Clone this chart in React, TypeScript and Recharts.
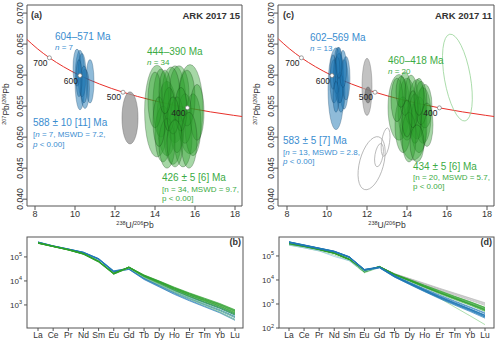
import React from 'react';
import { ComposedChart, LineChart, Line, Scatter, XAxis, YAxis, ReferenceArea } from 'recharts';

const FONT = '"Liberation Sans", Arial, Helvetica, sans-serif';
const BLUE = '#1f78b4';
const GREEN = '#2ca02c';
const BLUE_TXT = '#3a8dd0';
const GREEN_TXT = '#3cab45';
const RED = '#e8302a';
const INK = '#333';

// Tera-Wasserburg concordia, points (age in Ma)
const concordia = [
  { age: 800, x: 7.57, y: 0.06583 },
  { age: 750, x: 8.11, y: 0.06428 },
  { age: 700, x: 8.72, y: 0.06279 },
  { age: 650, x: 9.43, y: 0.06134 },
  { age: 600, x: 10.25, y: 0.05993 },
  { age: 550, x: 11.23, y: 0.05856 },
  { age: 500, x: 12.4, y: 0.05724 },
  { age: 450, x: 13.83, y: 0.05597 },
  { age: 400, x: 15.62, y: 0.05472 },
  { age: 350, x: 17.92, y: 0.05352 },
  { age: 340, x: 18.46, y: 0.05328 },
];
const ageMarks = [
  { age: 700, x: 8.72, y: 0.06279 },
  { age: 600, x: 10.25, y: 0.05993 },
  { age: 500, x: 12.4, y: 0.05724 },
  { age: 400, x: 15.62, y: 0.05472 },
];

const uTicks = [8, 10, 12, 14, 16, 18];
const pbTicks = [0.04, 0.045, 0.05, 0.055, 0.06, 0.065, 0.07];
const pbTickLabels = ['0.040', '0.045', '0.050', '0.055', '0.060', '0.065', '0.070'];

// ARK 2017 15: ellipse centres and half-axes (sx in 238U/206Pb, sy in 207Pb/206Pb)
const aBlue = [
  { x: 10.25, y: 0.0592, sx: 0.25, sy: 0.0048 },
  { x: 10.75, y: 0.059, sx: 0.2, sy: 0.0035 },
  { x: 10.5, y: 0.0578, sx: 0.22, sy: 0.0032 },
  { x: 10.1, y: 0.0612, sx: 0.2, sy: 0.003 },
  { x: 10.35, y: 0.06, sx: 0.2, sy: 0.0035 },
  { x: 10.45, y: 0.0585, sx: 0.18, sy: 0.003 },
  { x: 10.2, y: 0.0595, sx: 0.15, sy: 0.003 },
];
const aGrey = [{ x: 12.75, y: 0.0531, sx: 0.4, sy: 0.0042 }];
const aGreen = [
  { x: 14.1, y: 0.0542, sx: 0.62, sy: 0.0074 },
  { x: 15.75, y: 0.0545, sx: 0.65, sy: 0.0072 },
  { x: 15.0, y: 0.0553, sx: 0.55, sy: 0.0062 },
  { x: 14.6, y: 0.053, sx: 0.5, sy: 0.006 },
  { x: 14.9, y: 0.0506, sx: 0.45, sy: 0.005 },
  { x: 15.4, y: 0.05, sx: 0.45, sy: 0.0048 },
  { x: 14.3, y: 0.0555, sx: 0.4, sy: 0.0055 },
  { x: 15.2, y: 0.057, sx: 0.5, sy: 0.0045 },
  { x: 14.4, y: 0.0505, sx: 0.4, sy: 0.0045 },
  { x: 15.9, y: 0.052, sx: 0.4, sy: 0.005 },
  { x: 14.8, y: 0.0568, sx: 0.45, sy: 0.0045 },
  { x: 15.5, y: 0.053, sx: 0.35, sy: 0.004 },
  { x: 14.0, y: 0.056, sx: 0.35, sy: 0.0045 },
  { x: 15.1, y: 0.052, sx: 0.35, sy: 0.0045 },
  { x: 14.6, y: 0.049, sx: 0.4, sy: 0.004 },
  { x: 15.6, y: 0.0563, sx: 0.4, sy: 0.0045 },
  { x: 14.2, y: 0.0525, sx: 0.3, sy: 0.004 },
  { x: 15.3, y: 0.0545, sx: 0.3, sy: 0.0035 },
  { x: 14.7, y: 0.0545, sx: 0.3, sy: 0.0035 },
  { x: 16.1, y: 0.054, sx: 0.35, sy: 0.0045 },
  { x: 14.9, y: 0.0535, sx: 0.3, sy: 0.003 },
  { x: 15.0, y: 0.049, sx: 0.4, sy: 0.0038 },
  { x: 14.5, y: 0.0573, sx: 0.3, sy: 0.0035 },
  { x: 15.7, y: 0.0495, sx: 0.4, sy: 0.0045 },
];

// ARK 2017 11
const cBlue = [
  { x: 10.45, y: 0.0578, sx: 0.4, sy: 0.0066 },
  { x: 10.55, y: 0.0615, sx: 0.2, sy: 0.003 },
  { x: 10.6, y: 0.0595, sx: 0.25, sy: 0.004 },
  { x: 10.85, y: 0.0585, sx: 0.22, sy: 0.004 },
  { x: 10.35, y: 0.059, sx: 0.2, sy: 0.0035 },
  { x: 10.7, y: 0.057, sx: 0.2, sy: 0.003 },
  { x: 10.5, y: 0.06, sx: 0.18, sy: 0.003 },
  { x: 10.95, y: 0.0595, sx: 0.2, sy: 0.0035 },
  { x: 10.3, y: 0.0605, sx: 0.15, sy: 0.0028 },
  { x: 10.65, y: 0.058, sx: 0.15, sy: 0.0025 },
  { x: 10.8, y: 0.061, sx: 0.18, sy: 0.003 },
  { x: 10.45, y: 0.0565, sx: 0.15, sy: 0.0025 },
  { x: 10.6, y: 0.062, sx: 0.15, sy: 0.0025 },
];
const cGrey = [{ x: 12.0, y: 0.0581, sx: 0.25, sy: 0.0046 }];
const cGreyDark = [{ x: 12.05, y: 0.0568, sx: 0.15, sy: 0.0013 }];
const cOpenGrey = [
  { x: 12.23, y: 0.0458, sx: 0.6, sy: 0.0044, tilt: 15 },
  { x: 12.6, y: 0.0471, sx: 0.2, sy: 0.0019, tilt: 10 },
  { x: 12.93, y: 0.0492, sx: 0.2, sy: 0.0023, tilt: 8 },
];
const cOpenGreen = [{ x: 16.52, y: 0.0596, sx: 0.65, sy: 0.0071, tilt: -10 }];
const cGreen = [
  { x: 13.6, y: 0.0548, sx: 0.55, sy: 0.0053 },
  { x: 14.3, y: 0.0508, sx: 0.65, sy: 0.0045 },
  { x: 14.0, y: 0.0545, sx: 0.45, sy: 0.005 },
  { x: 14.5, y: 0.0545, sx: 0.45, sy: 0.0048 },
  { x: 14.8, y: 0.0535, sx: 0.4, sy: 0.0045 },
  { x: 13.8, y: 0.052, sx: 0.4, sy: 0.0045 },
  { x: 14.2, y: 0.056, sx: 0.35, sy: 0.004 },
  { x: 14.6, y: 0.052, sx: 0.4, sy: 0.0045 },
  { x: 14.9, y: 0.055, sx: 0.35, sy: 0.0035 },
  { x: 13.9, y: 0.057, sx: 0.3, sy: 0.0035 },
  { x: 14.4, y: 0.053, sx: 0.3, sy: 0.004 },
  { x: 14.1, y: 0.05, sx: 0.35, sy: 0.004 },
  { x: 13.5, y: 0.056, sx: 0.3, sy: 0.0035 },
  { x: 14.7, y: 0.0555, sx: 0.3, sy: 0.0035 },
  { x: 14.3, y: 0.0545, sx: 0.25, sy: 0.003 },
  { x: 14.0, y: 0.053, sx: 0.25, sy: 0.003 },
  { x: 15.0, y: 0.052, sx: 0.3, sy: 0.0035 },
  { x: 14.5, y: 0.049, sx: 0.35, sy: 0.003 },
  { x: 13.7, y: 0.0573, sx: 0.25, sy: 0.0025 },
  { x: 14.6, y: 0.0565, sx: 0.25, sy: 0.003 },
];

// REE patterns, log10 of normalised values
const elements = ['La', 'Ce', 'Pr', 'Nd', 'Sm', 'Eu', 'Gd', 'Tb', 'Dy', 'Ho', 'Er', 'Tm', 'Yb', 'Lu'];

const bGreen = [
  [5.6, 5.45, 5.31, 5.14, 4.83, 4.3, 4.58, 4.25, 4.0, 3.74, 3.5, 3.28, 3.06, 2.8],
  [5.58, 5.44, 5.3, 5.13, 4.82, 4.31, 4.57, 4.23, 3.98, 3.71, 3.47, 3.24, 3.02, 2.76],
  [5.57, 5.43, 5.29, 5.12, 4.8, 4.29, 4.56, 4.22, 3.96, 3.69, 3.44, 3.21, 2.99, 2.72],
  [5.58, 5.44, 5.3, 5.13, 4.81, 4.32, 4.57, 4.21, 3.95, 3.67, 3.42, 3.19, 2.96, 2.69],
  [5.59, 5.44, 5.31, 5.14, 4.83, 4.33, 4.58, 4.2, 3.93, 3.65, 3.4, 3.16, 2.93, 2.65],
  [5.57, 5.43, 5.29, 5.12, 4.8, 4.3, 4.56, 4.19, 3.92, 3.63, 3.37, 3.13, 2.9, 2.62],
  [5.58, 5.44, 5.3, 5.13, 4.82, 4.31, 4.57, 4.22, 3.97, 3.7, 3.46, 3.23, 3.01, 2.74],
  [5.59, 5.45, 5.31, 5.13, 4.82, 4.3, 4.58, 4.24, 3.99, 3.72, 3.48, 3.26, 3.04, 2.78],
  [5.57, 5.43, 5.29, 5.11, 4.79, 4.28, 4.55, 4.18, 3.9, 3.61, 3.35, 3.1, 2.86, 2.58],
  [5.58, 5.44, 5.3, 5.13, 4.81, 4.31, 4.57, 4.21, 3.94, 3.66, 3.41, 3.18, 2.95, 2.67],
];
const bGreenLight = [
  [5.58, 5.44, 5.3, 5.12, 4.8, 4.3, 4.55, 4.16, 3.87, 3.57, 3.3, 3.04, 2.78, 2.48],
  [5.57, 5.43, 5.29, 5.11, 4.78, 4.28, 4.54, 4.14, 3.84, 3.53, 3.25, 2.98, 2.71, 2.38],
];
const bBlue = [
  [5.62, 5.46, 5.33, 5.19, 4.92, 4.4, 4.52, 4.12, 3.83, 3.54, 3.28, 3.04, 2.8, 2.52],
  [5.61, 5.45, 5.32, 5.18, 4.91, 4.38, 4.5, 4.1, 3.8, 3.5, 3.24, 3.0, 2.76, 2.47],
  [5.62, 5.46, 5.33, 5.19, 4.93, 4.41, 4.53, 4.14, 3.86, 3.58, 3.32, 3.09, 2.86, 2.58],
  [5.6, 5.45, 5.32, 5.18, 4.9, 4.37, 4.49, 4.08, 3.77, 3.47, 3.2, 2.95, 2.7, 2.4],
  [5.61, 5.45, 5.32, 5.18, 4.91, 4.39, 4.51, 4.11, 3.82, 3.52, 3.26, 3.02, 2.78, 2.5],
  [5.62, 5.46, 5.33, 5.2, 4.93, 4.42, 4.53, 4.15, 3.88, 3.6, 3.35, 3.12, 2.89, 2.62],
  [5.6, 5.44, 5.31, 5.17, 4.89, 4.36, 4.48, 4.06, 3.75, 3.44, 3.17, 2.92, 2.67, 2.36],
];

const dGrey = [
  [5.5, 5.4, 5.27, 5.12, 4.87, 4.38, 4.56, 4.26, 4.06, 3.86, 3.65, 3.45, 3.25, 3.05],
  [5.49, 5.39, 5.26, 5.11, 4.86, 4.37, 4.55, 4.25, 4.04, 3.83, 3.61, 3.4, 3.19, 2.98],
  [5.5, 5.4, 5.27, 5.12, 4.86, 4.38, 4.56, 4.26, 4.05, 3.84, 3.63, 3.43, 3.23, 3.02],
  [5.51, 5.41, 5.28, 5.13, 4.87, 4.38, 4.56, 4.24, 4.02, 3.8, 3.58, 3.37, 3.16, 2.94],
];
const dGreen = [
  [5.5, 5.4, 5.27, 5.12, 4.86, 4.35, 4.56, 4.25, 4.02, 3.78, 3.55, 3.32, 3.1, 2.86],
  [5.49, 5.39, 5.26, 5.11, 4.85, 4.34, 4.55, 4.23, 3.99, 3.74, 3.5, 3.27, 3.05, 2.8],
  [5.5, 5.4, 5.27, 5.12, 4.86, 4.36, 4.55, 4.22, 3.97, 3.71, 3.46, 3.22, 2.99, 2.74],
  [5.51, 5.41, 5.28, 5.13, 4.87, 4.37, 4.56, 4.24, 4.0, 3.76, 3.52, 3.29, 3.07, 2.83],
  [5.49, 5.39, 5.26, 5.11, 4.84, 4.33, 4.54, 4.21, 3.96, 3.7, 3.45, 3.21, 2.98, 2.72],
  [5.5, 5.4, 5.27, 5.12, 4.86, 4.35, 4.55, 4.22, 3.98, 3.73, 3.48, 3.25, 3.02, 2.78],
  [5.52, 5.42, 5.29, 5.14, 4.88, 4.38, 4.57, 4.24, 3.99, 3.72, 3.47, 3.23, 3.0, 2.75],
  [5.48, 5.38, 5.25, 5.1, 4.84, 4.33, 4.54, 4.23, 4.01, 3.77, 3.54, 3.31, 3.09, 2.85],
  [5.5, 5.4, 5.27, 5.12, 4.85, 4.35, 4.55, 4.2, 3.95, 3.68, 3.42, 3.18, 2.95, 2.69],
  [5.51, 5.41, 5.28, 5.13, 4.87, 4.36, 4.56, 4.23, 3.98, 3.72, 3.47, 3.24, 3.01, 2.77],
];
const dGreenLight = [
  [5.45, 5.34, 5.21, 5.04, 4.8, 4.3, 4.52, 4.15, 3.86, 3.6, 3.24, 2.87, 2.51, 2.14],
];
const dBlue = [
  [5.58, 5.45, 5.32, 5.19, 4.96, 4.43, 4.53, 4.16, 3.87, 3.58, 3.31, 3.05, 2.8, 2.54],
  [5.57, 5.44, 5.31, 5.18, 4.95, 4.42, 4.52, 4.15, 3.85, 3.56, 3.28, 3.02, 2.77, 2.5],
  [5.59, 5.46, 5.33, 5.2, 4.97, 4.44, 4.54, 4.17, 3.89, 3.61, 3.34, 3.09, 2.85, 2.6],
  [5.56, 5.43, 5.3, 5.17, 4.94, 4.41, 4.51, 4.13, 3.83, 3.53, 3.25, 2.98, 2.73, 2.45],
  [5.58, 5.45, 5.32, 5.19, 4.96, 4.42, 4.53, 4.16, 3.86, 3.57, 3.29, 3.03, 2.78, 2.52],
  [5.57, 5.44, 5.31, 5.18, 4.95, 4.43, 4.52, 4.14, 3.84, 3.54, 3.26, 3.0, 2.75, 2.47],
  [5.59, 5.46, 5.33, 5.2, 4.97, 4.44, 4.54, 4.18, 3.9, 3.63, 3.37, 3.12, 2.88, 2.63],
  [5.56, 5.43, 5.3, 5.17, 4.93, 4.41, 4.51, 4.12, 3.81, 3.51, 3.22, 2.95, 2.69, 2.41],
  [5.58, 5.45, 5.32, 5.19, 4.95, 4.42, 4.53, 4.15, 3.86, 3.57, 3.3, 3.04, 2.79, 2.53],
];
const dBlueLight = [
  [5.46, 5.34, 5.21, 4.98, 4.8, 4.36, 4.5, 4.12, 3.82, 3.52, 3.24, 2.98, 2.72, 2.45],
];

type Look = { fill: string; fillOpacity: number; stroke: string; strokeOpacity: number; strokeWidth?: number };

const ellipseShape = (kx: number, ky: number, look: Look) => (p: any) => {
  const { cx, cy, payload } = p;
  if (cx == null || cy == null) return <g />;
  const tilt = payload.tilt || 0;
  return (
    <ellipse
      cx={cx}
      cy={cy}
      rx={payload.sx * kx}
      ry={payload.sy * ky}
      transform={tilt ? `rotate(${tilt} ${cx} ${cy})` : undefined}
      fill={look.fill}
      fillOpacity={look.fillOpacity}
      stroke={look.stroke}
      strokeOpacity={look.strokeOpacity}
      strokeWidth={look.strokeWidth ?? 0.6}
    />
  );
};

const ageMark = (p: any) => (
  <g>
    <circle cx={p.cx} cy={p.cy} r={2} fill="#fff" stroke="#777" strokeWidth={0.7} />
    <text x={p.cx - 2} y={p.cy + 5} textAnchor="end" dominantBaseline="central" fontSize={8.5} fill="#222" fontFamily={FONT}>
      {p.payload.age}
    </text>
  </g>
);

const PowTick = (p: any) => (
  <text x={p.x} y={p.y + 3} textAnchor="end" fontSize={8} fill={INK} fontFamily={FONT}>
    10<tspan dy={-3.5} fontSize={5.5}>{p.payload.value}</tspan>
  </text>
);

const Y_DOM: [number, number] = [0.0389, 0.0713];
const CH_W = 250;
const UPB_H = 230;
const UPB_TOP = 5;
const UPB_XH = 24;
const UPB_PLOT_H = UPB_H - UPB_TOP - UPB_XH;
const pbY = (v: number) => UPB_TOP + ((0.0713 - v) / 0.0324) * UPB_PLOT_H;

type Layer = { data: any[]; look: Look };

function UPbPanel({ layers, xDom, yAxisW, right }: { layers: Layer[]; xDom: [number, number]; yAxisW: number; right: number }) {
  const plotW = CH_W - yAxisW - right;
  const kx = plotW / (xDom[1] - xDom[0]);
  const ky = UPB_PLOT_H / (Y_DOM[1] - Y_DOM[0]);
  return (
    <ComposedChart width={CH_W} height={UPB_H} margin={{ top: UPB_TOP, right, bottom: 0, left: 0 }}>
      <XAxis
        type="number"
        dataKey="x"
        domain={[xDom[0], xDom[1]]}
        ticks={uTicks}
        allowDataOverflow
        axisLine={false}
        tickSize={4}
        tickMargin={1}
        height={UPB_XH}
        interval={0}
        tick={{ fontSize: 9, fill: INK, fontFamily: FONT }}
        tickLine={{ stroke: '#555' }}
      />
      <YAxis type="number" domain={[Y_DOM[0], Y_DOM[1]]} allowDataOverflow axisLine={false} width={yAxisW} tick={false} tickLine={false} />
      {layers.map((l, i) => (
        <Scatter key={i} data={l.data} dataKey="y" shape={ellipseShape(kx, ky, l.look)} isAnimationActive={false} />
      ))}
      <Line data={concordia} dataKey="y" type="monotone" stroke={RED} strokeWidth={1} dot={false} isAnimationActive={false} />
      <Scatter data={ageMarks} dataKey="y" shape={ageMark} isAnimationActive={false} />
      <ReferenceArea x1={xDom[0]} x2={xDom[1]} y1={Y_DOM[0]} y2={Y_DOM[1]} fill="none" stroke="#555" strokeWidth={1} ifOverflow="visible" />
    </ComposedChart>
  );
}

// rotated 207Pb/206Pb tick labels as HTML boxes, centred `cx` px left of the frame
const PbTickLabels = ({ cx }: { cx: number }) => (
  <>
    {pbTicks.map((v, i) => (
      <div
        key={i}
        style={{
          position: 'absolute',
          left: cx - 15,
          top: pbY(v) - 6,
          width: 30,
          height: 12,
          lineHeight: '12px',
          textAlign: 'center',
          fontSize: 8.5,
          fontFamily: FONT,
          color: INK,
          transform: 'rotate(-90deg)',
          zIndex: 10,
        }}
      >
        {pbTickLabels[i]}
      </div>
    ))}
  </>
);

type Group = { lines: number[][]; color: string; opacity: number; width: number };

function REEPanel({ groups, yDom, yTicks, yAxisW, right, padL, padR }: {
  groups: Group[]; yDom: [number, number]; yTicks: number[]; yAxisW: number; right: number; padL: number; padR: number;
}) {
  const rows = elements.map((el, i) => {
    const row: Record<string, any> = { el };
    groups.forEach((g, gi) => g.lines.forEach((ln, li) => { row[`s${gi}_${li}`] = ln[i]; }));
    return row;
  });
  return (
    <LineChart width={CH_W} height={117} data={rows} margin={{ top: 7, right, bottom: 0, left: 0 }}>
      <XAxis
        dataKey="el"
        padding={{ left: padL, right: padR }}
        axisLine={false}
        tickSize={3}
        tickMargin={1}
        height={19}
        interval={0}
        tick={{ fontSize: 8.5, fill: INK, fontFamily: FONT }}
        tickLine={{ stroke: '#555' }}
      />
      <YAxis
        type="number"
        domain={yDom}
        ticks={yTicks}
        allowDataOverflow
        axisLine={false}
        width={yAxisW}
        tickSize={3}
        tickMargin={2}
        interval={0}
        tick={<PowTick />}
        tickLine={{ stroke: '#555' }}
      />
      {groups.map((g, gi) =>
        g.lines.map((_, li) => (
          <Line
            key={`s${gi}_${li}`}
            dataKey={`s${gi}_${li}`}
            stroke={g.color}
            strokeOpacity={g.opacity}
            strokeWidth={g.width}
            dot={false}
            isAnimationActive={false}
          />
        ))
      )}
    </LineChart>
  );
}

const greenLook: Look = { fill: GREEN, fillOpacity: 0.42, stroke: '#10300f', strokeOpacity: 0.45 };
const blueLook: Look = { fill: BLUE, fillOpacity: 0.5, stroke: '#0c3358', strokeOpacity: 0.45 };
const greyLook: Look = { fill: '#9a9a9a', fillOpacity: 0.8, stroke: '#666', strokeOpacity: 0.7 };
const greyLightLook: Look = { fill: '#a8a8a8', fillOpacity: 0.7, stroke: '#666', strokeOpacity: 0.6 };
const greyDarkLook: Look = { fill: '#7a7a7a', fillOpacity: 0.8, stroke: '#555', strokeOpacity: 0.6 };
const openGreyLook: Look = { fill: 'none', fillOpacity: 0, stroke: '#9a9a9a', strokeOpacity: 0.9, strokeWidth: 0.7 };
const openGreenLook: Look = { fill: 'none', fillOpacity: 0, stroke: '#8fd08f', strokeOpacity: 1, strokeWidth: 0.7 };

const T = ({ x, y, s = 10, c = INK, w, a = 'start', children }: any) => (
  <text x={x} y={y} fontSize={s} fill={c} fontWeight={w} textAnchor={a} dominantBaseline="central" fontFamily={FONT}>
    {children}
  </text>
);
const I = ({ children }: any) => <tspan fontStyle="italic">{children}</tspan>;

const PbTitle = ({ x, y }: { x: number; y: number }) => (
  <text x={x} y={y} transform={`rotate(-90 ${x} ${y})`} textAnchor="middle" fontSize={8.5} fill={INK} fontFamily={FONT}>
    <tspan fontSize={5.5} dy={-3}>207</tspan>
    <tspan dy={3}>Pb/</tspan>
    <tspan fontSize={5.5} dy={-3}>206</tspan>
    <tspan dy={3}>Pb</tspan>
  </text>
);
const UTitle = ({ x, y }: { x: number; y: number }) => (
  <text x={x} y={y} textAnchor="middle" fontSize={8.5} fill={INK} fontFamily={FONT}>
    <tspan fontSize={5.5} dy={-3}>238</tspan>
    <tspan dy={3}>U/</tspan>
    <tspan fontSize={5.5} dy={-3}>206</tspan>
    <tspan dy={3}>Pb</tspan>
  </text>
);

export default function App() {
  return (
    <div style={{ position: 'absolute', left: 0, top: 0, width: 500, height: 347, background: '#fff', fontFamily: FONT }}>
      <div style={{ position: 'absolute', left: 0, top: 0 }}>
        <UPbPanel
          xDom={[7.6, 18.35]}
          yAxisW={27}
          right={8}
          layers={[
            { data: aGrey, look: greyLook },
            { data: aGreen, look: greenLook },
            { data: aBlue, look: blueLook },
          ]}
        />
      </div>
      <div style={{ position: 'absolute', left: 250, top: 0 }}>
        <UPbPanel
          xDom={[7.55, 18.35]}
          yAxisW={28}
          right={6}
          layers={[
            { data: cOpenGrey, look: openGreyLook },
            { data: cGrey, look: greyLightLook },
            { data: cGreyDark, look: greyDarkLook },
            { data: cBlue, look: blueLook },
            { data: cGreen, look: greenLook },
            { data: cOpenGreen, look: openGreenLook },
          ]}
        />
      </div>
      <div style={{ position: 'absolute', left: 0, top: 230 }}>
        <REEPanel
          yDom={[2.04, 5.83]}
          yTicks={[3, 4, 5]}
          yAxisW={27}
          right={7}
          padL={11}
          padR={8}
          groups={[
            { lines: bBlue, color: BLUE, opacity: 0.75, width: 0.9 },
            { lines: bGreenLight, color: '#8fd38f', opacity: 0.9, width: 0.8 },
            { lines: bGreen, color: GREEN, opacity: 0.7, width: 0.9 },
          ]}
        />
      </div>
      <div style={{ position: 'absolute', left: 250, top: 230 }}>
        <REEPanel
          yDom={[2, 5.79]}
          yTicks={[2, 3, 4, 5]}
          yAxisW={29}
          right={6}
          padL={10}
          padR={9}
          groups={[
            { lines: dGrey, color: '#b8b8b8', opacity: 0.9, width: 0.8 },
            { lines: dGreenLight, color: '#8fd38f', opacity: 0.9, width: 0.8 },
            { lines: dGreen, color: GREEN, opacity: 0.65, width: 0.9 },
            { lines: dBlueLight, color: '#8ec3e6', opacity: 0.9, width: 0.8 },
            { lines: dBlue, color: BLUE, opacity: 0.75, width: 0.9 },
          ]}
        />
      </div>
      <svg width={500} height={347} style={{ position: 'absolute', left: 0, top: 0, zIndex: 5, pointerEvents: 'none' }}>
        {/* y tick marks of the U-Pb panels */}
        {pbTicks.map((v, i) => (
          <g key={i}>
            <line x1={23} x2={27} y1={pbY(v)} y2={pbY(v)} stroke="#555" />
            <line x1={274} x2={278} y1={pbY(v)} y2={pbY(v)} stroke="#555" />
          </g>
        ))}
        {/* panel (a) */}
        <T x={31} y={15} s={9} w="bold">(a)</T>
        <T x={240} y={15} s={9.5} w="bold" a="end">ARK 2017 15</T>
        <T x={55} y={36} c={BLUE_TXT}>604–571 Ma</T>
        <T x={55} y={47} s={8} c={BLUE_TXT}><I>n</I> = 7</T>
        <T x={33} y={122} c={BLUE_TXT}>588 ± 10 [11] Ma</T>
        <T x={33} y={134} s={8} c={BLUE_TXT}>[<I>n</I> = 7, MSWD = 7.2,</T>
        <T x={33} y={144} s={8} c={BLUE_TXT}><I>p</I> &lt; 0.00]</T>
        <T x={147} y={51} c={GREEN_TXT}>444–390 Ma</T>
        <T x={147} y={62} s={8} c={GREEN_TXT}><I>n</I> = 34</T>
        <T x={162} y={177} c={GREEN_TXT}>426 ± 5 [6] Ma</T>
        <T x={162} y={189} s={8} c={GREEN_TXT}>[n = 34, MSWD = 9.7,</T>
        <T x={162} y={198} s={8} c={GREEN_TXT}>p &lt; 0.00]</T>
        <PbTitle x={9} y={104} />
        <UTitle x={135} y={228} />
        {/* panel (c) */}
        <T x={283} y={15} s={9} w="bold">(c)</T>
        <T x={492} y={15} s={9.5} w="bold" a="end">ARK 2017 11</T>
        <T x={310} y={37} c={BLUE_TXT}>602–569 Ma</T>
        <T x={310} y={48} s={8} c={BLUE_TXT}><I>n</I> = 13</T>
        <T x={283} y={140} c={BLUE_TXT}>583 ± 5 [7] Ma</T>
        <T x={283} y={152} s={8} c={BLUE_TXT}>[<I>n</I> = 13, MSWD = 2.8,</T>
        <T x={283} y={161} s={8} c={BLUE_TXT}><I>p</I> &lt; 0.00]</T>
        <T x={388} y={60} c={GREEN_TXT}>460–418 Ma</T>
        <T x={388} y={71} s={8} c={GREEN_TXT}><I>n</I> = 20</T>
        <T x={413} y={166} c={GREEN_TXT}>434 ± 5 [6] Ma</T>
        <T x={413} y={177} s={8} c={GREEN_TXT}>[n = 20, MSWD = 5.7,</T>
        <T x={413} y={186} s={8} c={GREEN_TXT}>p &lt; 0.00]</T>
        <PbTitle x={260} y={104} />
        <UTitle x={387} y={228} />
        {/* REE frames and tags */}
        <rect x={27} y={237} width={216} height={91} fill="none" stroke="#555" strokeWidth={1} />
        <rect x={279} y={237} width={215} height={91} fill="none" stroke="#555" strokeWidth={1} />
        <T x={241} y={242} s={9} w="bold" a="end">(b)</T>
        <T x={492} y={242} s={9} w="bold" a="end">(d)</T>
      </svg>
      <PbTickLabels cx={20} />
      <PbTickLabels cx={271} />
    </div>
  );
}
